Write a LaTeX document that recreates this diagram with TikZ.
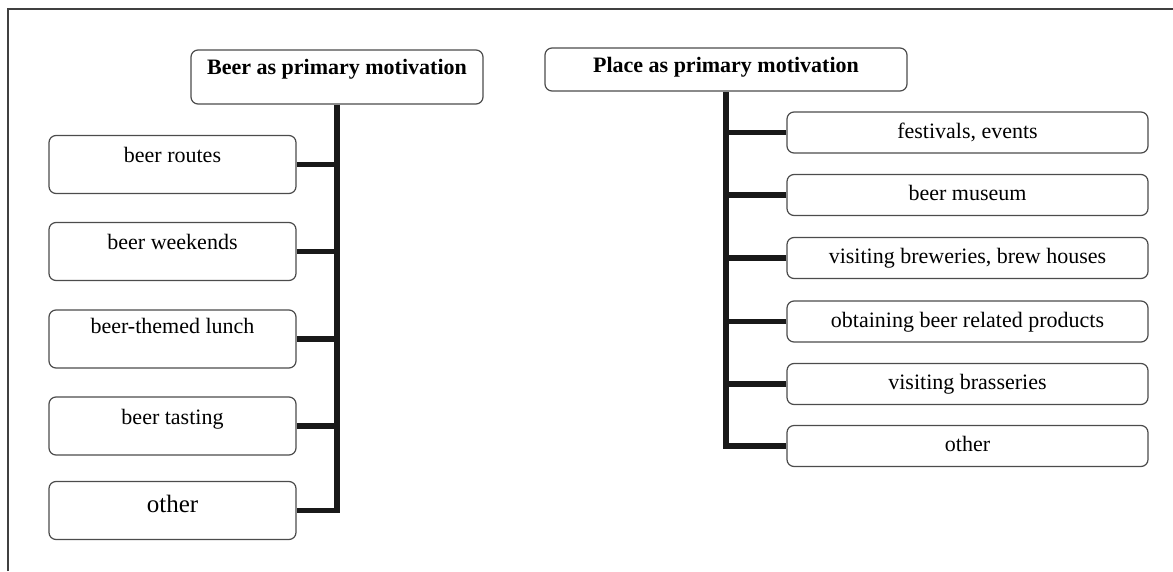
\documentclass[tikz,border=0pt]{standalone}
\usepackage{fontspec}
\setmainfont{Liberation Serif}
\usetikzlibrary{positioning}

\tikzset{
	box/.style={draw=black!70, line width=1.2pt, rounded corners=7pt, fill=white,
		inner xsep=4pt, inner ysep=4pt, font=\fontsize{22}{26}\selectfont},
	headbig/.style={box, font=\fontsize{22}{26}\selectfont\bfseries, minimum width=292pt,
		text height=20pt, text depth=26pt},
	headsmall/.style={box, font=\fontsize{22}{26}\selectfont\bfseries, minimum width=362pt,
		text height=20pt, text depth=15pt},
	leftbox/.style={box, minimum width=247pt, text height=23pt, text depth=27pt},
	rightbox/.style={box, minimum width=361pt, text height=22pt, text depth=11pt},
	trunk/.style={line width=5.5pt, draw=black!90},
	frame/.style={line width=1.2pt, draw=black!75}
}

\begin{document}
\begin{tikzpicture}[x=1pt,y=-1pt]
			\useasboundingbox (0,0) rectangle (1173,571);
			% outer frame
			\draw[frame] (8,571) -- (8,9) -- (1173,9);

			% Beer as primary motivation
			\node[headbig] (beerhead) at (337,77) {Beer as primary motivation};
			\node[leftbox] (broutes) at (172.5,164.5) {beer routes};
			\node[leftbox] (bweekend) at (172.5,251.5) {beer weekends};
			\node[leftbox,text height=19pt,text depth=31pt] (blunch) at (172.5,339) {beer-themed lunch};
			\node[leftbox] (btasting) at (172.5,426) {beer tasting};
			\node[leftbox,font=\fontsize{25}{29}\selectfont,text height=27pt,text depth=23pt] (bother) at (172.5,510.5) {other};

			\draw[trunk] (beerhead.south) |- (bother.east);
			\draw[trunk] (broutes.east) -- (broutes.east -| beerhead.south);
			\draw[trunk] (bweekend.east) -- (bweekend.east -| beerhead.south);
			\draw[trunk] (blunch.east) -- (blunch.east -| beerhead.south);
			\draw[trunk] (btasting.east) -- (btasting.east -| beerhead.south);

			% Place as primary motivation
			\node[headsmall] (placehead) at (726,69.5) {Place as primary motivation};
			\node[rightbox] (pfestival) at (967.5,132.5) {festivals, events};
			\node[rightbox] (pmuseum) at (967.5,195) {beer museum};
			\node[rightbox] (pbrewery) at (967.5,258) {visiting breweries, brew houses};
			\node[rightbox] (pproducts) at (967.5,321.5) {obtaining beer related products};
			\node[rightbox] (pbrasserie) at (967.5,384) {visiting brasseries};
			\node[rightbox] (pother) at (967.5,446) {other};

			\draw[trunk] (placehead.south) |- (pother.west);
			\draw[trunk] (pfestival.west) -- (pfestival.west -| placehead.south);
			\draw[trunk] (pmuseum.west) -- (pmuseum.west -| placehead.south);
			\draw[trunk] (pbrewery.west) -- (pbrewery.west -| placehead.south);
			\draw[trunk] (pproducts.west) -- (pproducts.west -| placehead.south);
			\draw[trunk] (pbrasserie.west) -- (pbrasserie.west -| placehead.south);
\end{tikzpicture}
\end{document}
